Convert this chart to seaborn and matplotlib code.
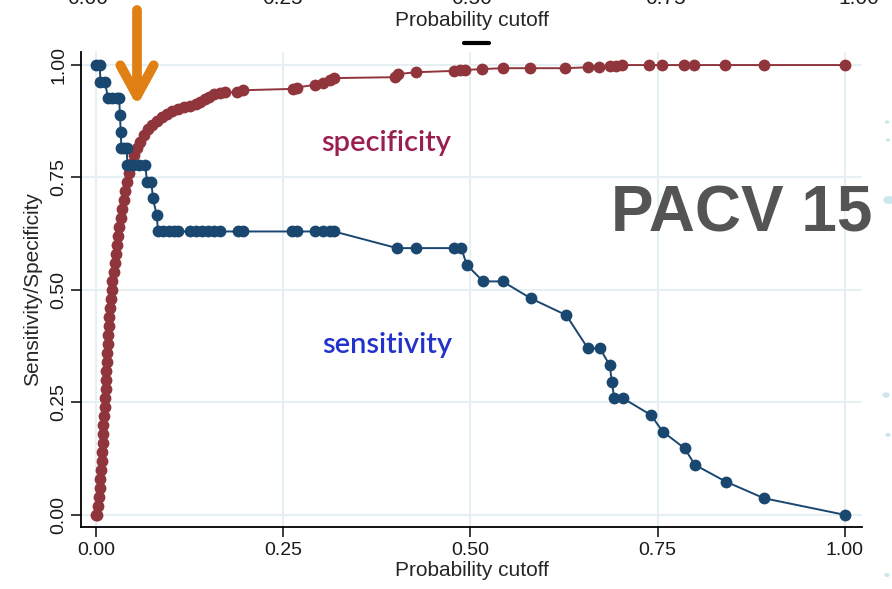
import matplotlib.pyplot as plt
import pandas as pd
import seaborn as sns
from matplotlib.lines import Line2D
from matplotlib.patches import Circle

# values
spec_cutoff = [0.000, 0.002, 0.003, 0.004, 0.005, 0.006, 0.007, 0.008, 0.008, 0.009,
               0.010, 0.010, 0.011, 0.012, 0.012, 0.013, 0.014, 0.014, 0.015, 0.015,
               0.016, 0.016, 0.017, 0.018, 0.019, 0.020, 0.021, 0.022, 0.024, 0.025,
               0.027, 0.028, 0.030, 0.031, 0.033, 0.035, 0.037, 0.039, 0.042, 0.044,
               0.047, 0.051, 0.055, 0.059, 0.064, 0.069, 0.075, 0.081, 0.088, 0.095,
               0.102, 0.110, 0.118, 0.126, 0.133, 0.139, 0.145, 0.151, 0.158, 0.165,
               0.172, 0.188, 0.196, 0.263, 0.268, 0.292, 0.303, 0.312, 0.318, 0.399,
               0.404, 0.427, 0.478, 0.486, 0.493, 0.515, 0.543, 0.579, 0.626, 0.657,
               0.672, 0.686, 0.694, 0.702, 0.738, 0.756, 0.785, 0.798, 0.840, 0.892,
               1.000]
spec_value = [0.000, 0.000, 0.020, 0.040, 0.060, 0.080, 0.100, 0.120, 0.140, 0.160,
              0.180, 0.200, 0.220, 0.240, 0.260, 0.280, 0.300, 0.320, 0.340, 0.360,
              0.380, 0.400, 0.420, 0.440, 0.460, 0.480, 0.500, 0.520, 0.540, 0.560,
              0.580, 0.600, 0.620, 0.640, 0.660, 0.680, 0.700, 0.720, 0.740, 0.760,
              0.780, 0.800, 0.815, 0.830, 0.845, 0.857, 0.866, 0.875, 0.884, 0.892,
              0.898, 0.903, 0.906, 0.908, 0.913, 0.918, 0.924, 0.930, 0.935, 0.938,
              0.939, 0.940, 0.944, 0.947, 0.950, 0.956, 0.961, 0.966, 0.971, 0.973,
              0.980, 0.984, 0.987, 0.988, 0.989, 0.991, 0.993, 0.993, 0.993, 0.995,
              0.996, 0.998, 0.998, 1.000, 1.000, 1.000, 1.000, 1.000, 1.000, 1.000,
              1.000]

sens_cutoff = [0.000, 0.005, 0.006, 0.012, 0.016, 0.022, 0.028, 0.031, 0.032, 0.033,
               0.034, 0.038, 0.041, 0.042, 0.050, 0.058, 0.066, 0.068, 0.074, 0.076,
               0.081, 0.083, 0.090, 0.097, 0.104, 0.110, 0.126, 0.134, 0.142, 0.150,
               0.158, 0.166, 0.190, 0.197, 0.262, 0.268, 0.292, 0.303, 0.312, 0.318,
               0.402, 0.427, 0.478, 0.488, 0.495, 0.517, 0.543, 0.581, 0.628, 0.657,
               0.673, 0.686, 0.689, 0.692, 0.704, 0.741, 0.757, 0.786, 0.800, 0.841,
               0.892, 1.000]
sens_value = [1.000, 1.000, 0.963, 0.963, 0.926, 0.926, 0.926, 0.926, 0.889, 0.852,
              0.815, 0.815, 0.815, 0.778, 0.778, 0.778, 0.778, 0.741, 0.741, 0.704,
              0.667, 0.630, 0.630, 0.630, 0.630, 0.630, 0.630, 0.630, 0.630, 0.630,
              0.630, 0.630, 0.630, 0.630, 0.630, 0.630, 0.630, 0.630, 0.630, 0.630,
              0.593, 0.593, 0.593, 0.593, 0.556, 0.519, 0.519, 0.481, 0.444, 0.370,
              0.370, 0.333, 0.296, 0.259, 0.259, 0.222, 0.185, 0.148, 0.111, 0.074,
              0.037, 0.000]

ticks = [0, 0.25, 0.5, 0.75, 1.0]
tick_labels = ['0.00', '0.25', '0.50', '0.75', '1.00']

navy = '#1a476f'
maroon = '#90353b'

df = pd.concat([
    pd.DataFrame({'cutoff': spec_cutoff, 'value': spec_value, 'curve': 'specificity'}),
    pd.DataFrame({'cutoff': sens_cutoff, 'value': sens_value, 'curve': 'sensitivity'}),
])

sns.set_style('white')
plt.rcParams['font.family'] = ['Liberation Sans', 'DejaVu Sans']

W, H = 892, 589
fig = plt.figure(figsize=(W / 100, H / 100), dpi=100)
ax = fig.add_axes([81 / W, 1 - 527 / H, (862 - 81) / W, (527 - 52) / H])


def px(x, y):
    # figure pixel position (from top-left) -> figure fraction
    return x / W, 1 - y / H


sns.lineplot(data=df, x='cutoff', y='value', hue='curve',
             palette={'specificity': maroon, 'sensitivity': navy},
             estimator=None, sort=False, marker='o', markersize=8.5,
             markeredgewidth=0, linewidth=1.4, legend=False, ax=ax)

ax.set_xlim(-0.02, 1.023)
ax.set_ylim(-0.027, 1.029)
ax.set_xticks(ticks, tick_labels)
ax.set_yticks(ticks, tick_labels)
ax.grid(True, color='#e6eff1', linewidth=1.5)
ax.set_axisbelow(True)
for side in ['top', 'right']:
    ax.spines[side].set_visible(False)
for side in ['left', 'bottom']:
    ax.spines[side].set_color('black')
    ax.spines[side].set_linewidth(1.3)
ax.tick_params(direction='out', length=7, width=1.2, labelsize=14,
               colors='#1a1a1a', left=True, bottom=True)
ax.tick_params(axis='y', labelrotation=90, pad=3)
for lab in ax.get_yticklabels():
    lab.set_va('center')
ax.set_xlabel('Probability cutoff', fontsize=15, labelpad=2)
ax.set_ylabel('Sensitivity/Specificity', fontsize=15, labelpad=6)

# curve labels and slide title
fig.text(*px(386, 143), 'specificity', fontsize=21, color='#9a1e4e',
         family=['Lato', 'DejaVu Sans'], fontweight='semibold',
         ha='center', va='center')
fig.text(*px(387, 345), 'sensitivity', fontsize=21, color='#2233cc',
         family=['Lato', 'DejaVu Sans'], fontweight='semibold',
         ha='center', va='center')
fig.text(*px(742, 214), 'PACV 15', fontsize=46, fontweight='bold',
         color='#545454', ha='center', va='center')

# leftovers of the chart above (cut by the slide crop)
for xp, lab in zip([88, 282, 472, 665, 859], tick_labels):
    fig.text(*px(xp, -1), lab, fontsize=15, ha='center', va='center', color='#1a1a1a')
fig.text(*px(472, 21), 'Probability cutoff', fontsize=15, ha='center', va='center')
fig.add_artist(Line2D([464 / W, 489 / W], [1 - 43 / H, 1 - 43 / H],
                      color='black', linewidth=3, transform=fig.transFigure))

# orange arrow marking the crossing point
ax.annotate('', xy=px(137, 106), xytext=px(137, 10), xycoords='figure fraction',
            arrowprops=dict(arrowstyle='->,head_length=1.1,head_width=0.6',
                            lw=7, color='#e07f13', mutation_scale=20,
                            shrinkA=0, shrinkB=0))

# faint decoration dots at the right edge
for xp, yp, r in [(887, 122, 1.5), (888, 140, 1.5), (889, 200, 5), (886, 395, 3),
                  (888, 435, 2), (887, 575, 2)]:
    fig.add_artist(Circle(px(xp, yp), r / W, color='#cfe6ec',
                          transform=fig.transFigure))

fig.savefig('out.png', dpi=100)
